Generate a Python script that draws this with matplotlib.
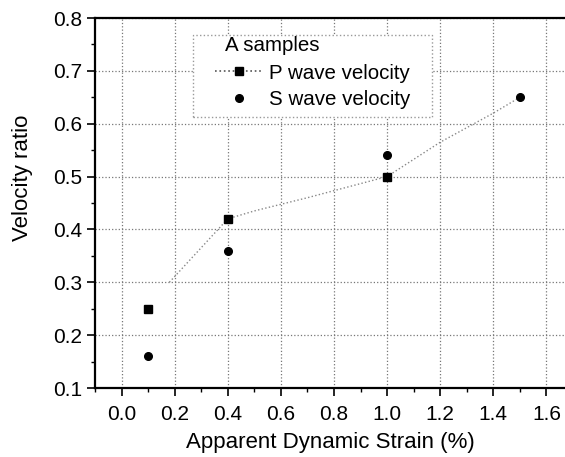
import matplotlib
matplotlib.use("Agg")
import matplotlib.pyplot as plt
from matplotlib.ticker import MultipleLocator
from matplotlib.lines import Line2D
from matplotlib.patches import Rectangle

plt.rcParams['font.family'] = ['Liberation Sans', 'DejaVu Sans']

# Data
p_strain = [0.1, 0.4, 1.0]
p_ratio = [0.25, 0.42, 0.50]
s_strain = [0.1, 0.4, 1.0, 1.5]
s_ratio = [0.16, 0.36, 0.54, 0.65]
fit_strain = [0.18, 0.4, 0.5, 0.7, 1.0, 1.2, 1.4, 1.5]
fit_ratio = [0.30, 0.42, 0.435, 0.46, 0.50, 0.565, 0.62, 0.65]
xticks = [0.0, 0.2, 0.4, 0.6, 0.8, 1.0, 1.2, 1.4, 1.6]
yticks = [0.1, 0.2, 0.3, 0.4, 0.5, 0.6, 0.7, 0.8]
legend_title = 'A samples'
series_labels = ['P wave velocity', 'S wave velocity']

fig = plt.figure(figsize=(5.65, 4.57), dpi=100)
ax = fig.add_axes([95/565, 69/457, 470/565, 370/457])

ax.plot(fit_strain, fit_ratio, linestyle=':', color='#888888', linewidth=1.0)
ax.plot(p_strain, p_ratio, linestyle='none', marker='s', color='black', markersize=5.5)
ax.plot(s_strain, s_ratio, linestyle='none', marker='o', color='black', markersize=5.5)

ax.set_xlim(-0.1, 1.67)
ax.set_ylim(0.1, 0.8)
ax.set_xticks(xticks)
ax.set_yticks(yticks)
ax.set_xticklabels([f"{v:.1f}" for v in xticks])
ax.set_yticklabels([f"{v:.1f}" for v in yticks])
ax.xaxis.set_minor_locator(MultipleLocator(0.1))
ax.yaxis.set_minor_locator(MultipleLocator(0.05))
ax.tick_params(which='major', direction='out', length=6, width=1.2, labelsize=15, pad=3, colors='black')
ax.tick_params(which='minor', direction='out', length=3, width=1.0)
ax.tick_params(axis='x', which='major', pad=6)

for side in ['left', 'bottom', 'top']:
    ax.spines[side].set_linewidth(1.6)
ax.spines['right'].set_visible(False)

ax.grid(True, which='major', linestyle=':', color='#777777', linewidth=0.9)

ax.set_xlabel('Apparent Dynamic Strain (%)', fontsize=16)
ax.set_ylabel('Velocity ratio', fontsize=16)
ax.xaxis.set_label_coords(0.5, -0.118)
ax.yaxis.set_label_coords(-0.132, 0.5676)

# Legend frame
frame = Rectangle((0.2085, 0.7324), 0.5085, 0.2216, transform=ax.transAxes,
                  facecolor='white', edgecolor='#999999', linestyle=':', linewidth=1.0,
                  zorder=3, clip_on=False)
ax.add_patch(frame)
ax.text(0.2766, 0.927, legend_title, transform=ax.transAxes, fontsize=14.8,
        ha='left', va='center', zorder=6)

handles = [
    Line2D([], [], linestyle=':', color='#555555', marker='s', markerfacecolor='black',
           markeredgecolor='black', markersize=5.5, linewidth=1.2),
    Line2D([], [], linestyle='none', marker='o', color='black', markersize=5.5),
]
leg = ax.legend(handles, series_labels, loc='upper left', bbox_to_anchor=(0.2553, 0.877),
                borderaxespad=0, borderpad=0, fontsize=14.8, frameon=False,
                handlelength=2.35, handletextpad=0.3, labelspacing=0.36)
leg.set_zorder(6)

fig.savefig('out.png', dpi=100)
